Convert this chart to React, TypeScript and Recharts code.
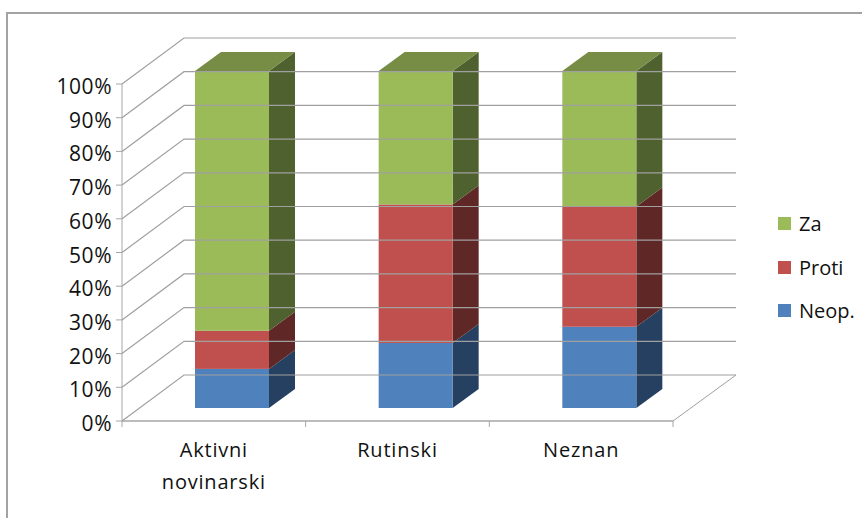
import { BarChart, Bar, XAxis, YAxis, Legend } from 'recharts';

const categories = ['Aktivni novinarski', 'Rutinski', 'Neznan'];
const neop = [11.6, 19.3, 24.1];
const proti = [11.3, 41.1, 35.7];
const za = [77.1, 39.6, 40.2];
const yTicks = [0, 10, 20, 30, 40, 50, 60, 70, 80, 90, 100];

const data = categories.map((name, i) => ({ name, neop: neop[i], proti: proti[i], za: za[i] }));

const FONT = '"Open Sans", sans-serif';
const TEXT = '#111';
const AXIS = '#a6a6a6';
const GRID = '#a0a0a0';

// chart geometry (oblique projection of the 3D box)
const PLOT_LEFT = 122;
const PLOT_RIGHT = 673;
const WALL_DX = 62;
const WALL_DY = -46;
const BAR_DX = 18;
const BAR_DY = -13;
const DEPTH_X = 26;
const DEPTH_Y = -19;
const BAND = (PLOT_RIGHT - PLOT_LEFT) / categories.length;

const makeShape = (front: string, side: string, top?: string) => (props: any) => {
    const x = props.x + BAR_DX;
    const y = props.y + BAR_DY;
    const { width, height } = props;
    const r = x + width;
    return (
        <g>
            <polygon
                points={`${r},${y} ${r + DEPTH_X},${y + DEPTH_Y} ${r + DEPTH_X},${y + height + DEPTH_Y} ${r},${y + height}`}
                fill={side}
            />
            {top && (
                <polygon
                    points={`${x},${y} ${x + DEPTH_X},${y + DEPTH_Y} ${r + DEPTH_X},${y + DEPTH_Y} ${r},${y}`}
                    fill={top}
                />
            )}
            <rect x={x} y={y} width={width} height={height} fill={front} />
        </g>
    );
};

const YTick = (props: any) => {
    const { y, payload } = props;
    const backX = PLOT_LEFT + WALL_DX;
    const backY = y + WALL_DY;
    const backRight = PLOT_RIGHT + WALL_DX + 1;
    return (
        <g>
            <polyline
                points={`${PLOT_LEFT},${y} ${backX},${backY} ${backRight},${backY}`}
                fill="none"
                stroke={GRID}
                strokeWidth={1.2}
            />
            {payload.value === 0 && (
                <line x1={backRight} y1={backY} x2={PLOT_RIGHT} y2={y} stroke={GRID} strokeWidth={1} />
            )}
            <line x1={PLOT_LEFT - 6} y1={y} x2={PLOT_LEFT} y2={y} stroke={AXIS} />
            <text
                x={PLOT_LEFT - 10}
                y={y + 10}
                textAnchor="end"
                fontSize={21}
                letterSpacing={0.5}
                fontFamily={FONT}
                fill={TEXT}
            >
                {payload.value}%
            </text>
        </g>
    );
};

const XTick = (props: any) => {
    const { x, y, payload, index } = props;
    const lines = String(payload.value).split(' ');
    return (
        <g>
            {index === 0 && <line x1={x - BAND / 2} y1={y} x2={x - BAND / 2} y2={y + 6} stroke={AXIS} />}
            <line x1={x + BAND / 2} y1={y} x2={x + BAND / 2} y2={y + 6} stroke={AXIS} />
            {lines.map((line, i) => (
                <text
                    key={i}
                    x={x}
                    y={y + 36 + i * 32}
                    textAnchor="middle"
                    fontSize={20}
                    letterSpacing={0.8}
                    fontFamily={FONT}
                    fill={TEXT}
                >
                    {line}
                </text>
            ))}
        </g>
    );
};

const renderLegend = (props: any) => {
    const items = [...(props.payload || [])].reverse();
    return (
        <div style={{ fontFamily: FONT, fontSize: 20, color: TEXT }}>
            {items.map((item: any) => (
                <div key={item.value} style={{ display: 'flex', alignItems: 'center', height: 43.5 }}>
                    <span style={{ width: 13, height: 13, background: item.color, marginRight: 8 }} />
                    {item.value}
                </div>
            ))}
        </div>
    );
};

export default function App() {
    return (
        <div style={{ position: 'absolute', left: 0, top: 0, width: 862, height: 518, overflow: 'hidden', background: '#fff' }}>
            {/* chart frame runs off the right and bottom of the picture */}
            <div
                style={{
                    position: 'absolute',
                    left: 6,
                    top: 12,
                    width: 900,
                    height: 560,
                    border: '2px solid #a3a3a3',
                }}
            />
            <BarChart
                width={862}
                height={518}
                data={data}
                barSize={74}
                margin={{ top: 84, right: 189, bottom: 0, left: 0 }}
                style={{ position: 'absolute', left: 0, top: 0 }}
            >
                <XAxis
                    dataKey="name"
                    height={97}
                    axisLine={{ stroke: AXIS, strokeWidth: 1.5 }}
                    tickLine={false}
                    tickSize={0}
                    tickMargin={0}
                    tick={<XTick />}
                    interval={0}
                />
                <YAxis
                    width={122}
                    domain={[0, 100]}
                    ticks={yTicks}
                    interval={0}
                    axisLine={{ stroke: AXIS }}
                    tickLine={false}
                    tickSize={0}
                    tickMargin={0}
                    tick={<YTick />}
                />
                <Legend
                    layout="vertical"
                    align="center"
                    verticalAlign="middle"
                    content={renderLegend}
                    wrapperStyle={{ position: 'absolute', left: 778, top: 202, width: 84 }}
                />
                <Bar dataKey="neop" name="Neop." stackId="a" fill="#4f81bd" isAnimationActive={false} shape={makeShape('#4f81bd', '#254061')} />
                <Bar dataKey="proti" name="Proti" stackId="a" fill="#c0504d" isAnimationActive={false} shape={makeShape('#c0504d', '#5f2726')} />
                <Bar dataKey="za" name="Za" stackId="a" fill="#9bbb59" isAnimationActive={false} shape={makeShape('#9bbb59', '#4f612f', '#778c44')} />
            </BarChart>
        </div>
    );
}
